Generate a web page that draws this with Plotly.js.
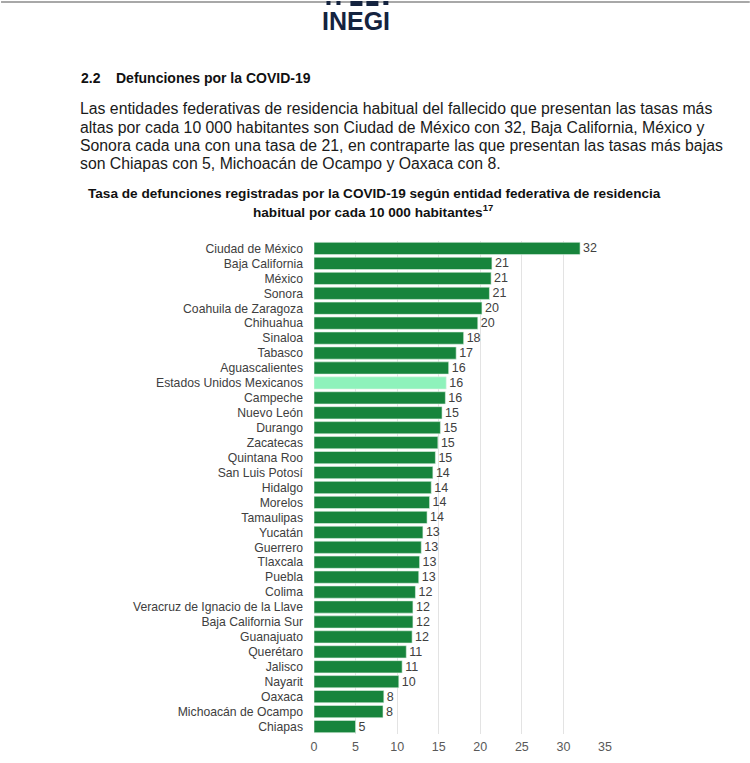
<!DOCTYPE html>
<html><head><meta charset="utf-8">
<script src="https://cdn.plot.ly/plotly-3.0.1.min.js"></script>
<style>html,body{margin:0;padding:0;background:#fff;overflow:hidden}#chart{width:750px;height:763px}</style>
</head><body><div id="chart"></div><script>
// ---- data ----
const entidades = [
  'Ciudad de México','Baja California','México','Sonora','Coahuila de Zaragoza','Chihuahua',
  'Sinaloa','Tabasco','Aguascalientes','Estados Unidos Mexicanos','Campeche','Nuevo León',
  'Durango','Zacatecas','Quintana Roo','San Luis Potosí','Hidalgo','Morelos','Tamaulipas',
  'Yucatán','Guerrero','Tlaxcala','Puebla','Colima','Veracruz de Ignacio de la Llave',
  'Baja California Sur','Guanajuato','Querétaro','Jalisco','Nayarit','Oaxaca',
  'Michoacán de Ocampo','Chiapas'
];
const tasas = [
  32.0, 21.4, 21.3, 21.1, 20.2, 19.7,
  18.0, 17.1, 16.2, 15.9, 15.8, 15.4,
  15.2, 14.9, 14.6, 14.3, 14.1, 13.9, 13.6,
  13.1, 12.9, 12.7, 12.6, 12.2, 11.9,
  11.9, 11.8, 11.1, 10.6, 10.2, 8.4,
  8.3, 5.0
];
const etiquetas = [
  '32','21','21','21','20','20',
  '18','17','16','16','16','15',
  '15','15','15','14','14','14','14',
  '13','13','13','13','12','12',
  '12','12','11','11','10','8',
  '8','5'
];
const nacional = 'Estados Unidos Mexicanos';
const xTicks = [0, 5, 10, 15, 20, 25, 30, 35];

const seccionNum = '2.2';
const seccionTitulo = 'Defunciones por la COVID-19';
const parrafo = [
  'Las entidades federativas de residencia habitual del fallecido que presentan las tasas más',
  'altas por cada 10 000 habitantes son Ciudad de México con 32, Baja California, México y',
  'Sonora cada una con una tasa de 21, en contraparte las que presentan las tasas más bajas',
  'son Chiapas con 5, Michoacán de Ocampo y Oaxaca con 8.'
];
const tituloLineas = [
  'Tasa de defunciones registradas por la COVID-19 según entidad federativa de residencia',
  'habitual por cada 10 000 habitantes<sup>17</sup>'
];

// ---- geometry ----
const W = 750, H = 763;
const M = {l: 313.5, r: 145, t: 240.5, b: 28.5};
const PW = W - M.l - M.r, PH = H - M.t - M.b;
const px = x => (x - M.l) / PW;
const py = y => 1 - (y - M.t) / PH;
const FAM = 'Liberation Sans, Arial, sans-serif';

const colores = entidades.map(e => e === nacional ? '#8ef2bb' : '#17843c');

const trace = {
  type: 'bar', orientation: 'h',
  y: entidades, x: tasas,
  text: etiquetas, textposition: 'outside', cliponaxis: false, constraintext: 'none',
  textfont: {family: FAM, size: 12.5, color: '#404040'},
  marker: {color: colores, line: {color: '#dff2e4', width: 0.6}},
  hoverinfo: 'none'
};

const annotations = [];
const txt = (text, x, y, opts) => annotations.push(Object.assign({
  text, x: px(x), y: py(y), xref: 'paper', yref: 'paper', showarrow: false,
  xanchor: 'left', yanchor: 'middle',
  font: {family: FAM, size: 14.5, color: '#1a1a1a'}
}, opts || {}));

txt('<b>INEGI</b>', 356, 20, {xanchor: 'center', font: {family: FAM, size: 25, color: '#14233f'}});
txt('<b>' + seccionNum + '</b>', 78, 77, {font: {family: FAM, size: 14, color: '#111'}});
txt('<b>' + seccionTitulo + '</b>', 113, 77, {font: {family: FAM, size: 14, color: '#111'}});
const lineY = [108, 127, 145, 163];
parrafo.forEach((l, i) => txt(l, 77, lineY[i], {font: {family: FAM, size: 15.8, color: '#1a1a1a'}}));
txt('<b>' + tituloLineas[0] + '</b>', 374, 193, {xanchor: 'center', font: {family: FAM, size: 13.6, color: '#111'}});
txt('<b>' + tituloLineas[1] + '</b>', 373, 210, {xanchor: 'center', font: {family: FAM, size: 13.6, color: '#111'}});

const shapes = [
  {type: 'rect', xref: 'paper', yref: 'paper', x0: px(0), x1: px(750), y0: py(0), y1: py(2), fillcolor: '#a8a8a8', line: {width: 0}},
  {type: 'rect', xref: 'paper', yref: 'paper', x0: px(326), x1: px(330), y0: py(0), y1: py(4), fillcolor: '#14233f', line: {width: 0}},
  {type: 'rect', xref: 'paper', yref: 'paper', x0: px(336), x1: px(340), y0: py(0), y1: py(4), fillcolor: '#14233f', line: {width: 0}},
  {type: 'rect', xref: 'paper', yref: 'paper', x0: px(350), x1: px(362), y0: py(0), y1: py(5), fillcolor: '#14233f', line: {width: 0}},
  {type: 'rect', xref: 'paper', yref: 'paper', x0: px(366), x1: px(378), y0: py(0), y1: py(5), fillcolor: '#14233f', line: {width: 0}},
  {type: 'rect', xref: 'paper', yref: 'paper', x0: px(383), x1: px(388), y0: py(0), y1: py(4), fillcolor: '#14233f', line: {width: 0}}
];

const layout = {
  width: W, height: H, margin: M,
  paper_bgcolor: '#ffffff', plot_bgcolor: '#ffffff',
  showlegend: false, bargap: 0.18,
  font: {family: FAM, color: '#404040'},
  xaxis: {
    range: [0, 35], tickvals: xTicks, ticktext: xTicks.map(String),
    showgrid: true, gridcolor: '#e3e3e3', gridwidth: 1, zeroline: false,
    showline: false, ticks: '', ticklabelstandoff: 3,
    tickfont: {size: 12.5, color: '#595959'}, fixedrange: true
  },
  yaxis: {
    type: 'category', autorange: 'reversed', showgrid: false, zeroline: false,
    showline: false, ticks: '', ticklabelstandoff: 10,
    tickmode: 'array', tickvals: entidades, ticktext: entidades,
    tickfont: {size: 12.2, color: '#404040'}, fixedrange: true
  },
  annotations, shapes
};

Plotly.newPlot('chart', [trace], layout, {displayModeBar: false, staticPlot: true});
</script></body></html>
